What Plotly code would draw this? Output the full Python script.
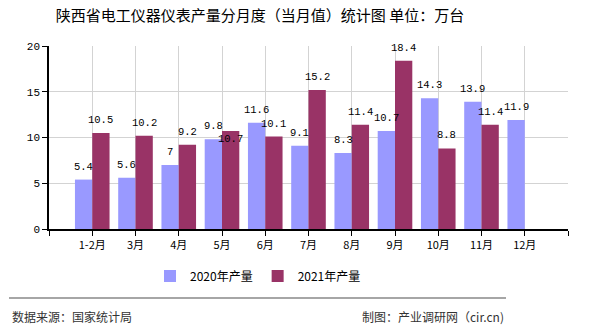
import plotly.graph_objects as go

categories = ["1-2月", "3月", "4月", "5月", "6月", "7月", "8月", "9月", "10月", "11月", "12月"]
values_2020 = [5.4, 5.6, 7, 9.8, 11.6, 9.1, 8.3, 10.7, 14.3, 13.9, 11.9]
values_2021 = [10.5, 10.2, 9.2, 10.7, 10.1, 15.2, 11.4, 18.4, 8.8, 11.4, None]
series_names = ["2020年产量", "2021年产量"]
y_ticks = [0, 5, 10, 15, 20]
title_text = "陕西省电工仪器仪表产量分月度（当月值）统计图 单位：万台"
source_text = "数据来源：国家统计局"
credit_text = "制图：产业调研网（cir.cn)"

W, H = 590, 330
L, R, T, B = 49, 568, 46, 229
pw, ph = R - L, B - T

def px_x(x):
    return (x - L) / pw

def px_y(y):
    return (B - y) / ph

colors = ["#9999FF", "#993366"]
xs = list(range(len(categories)))

fig = go.Figure()
for name, vals, col in zip(series_names, [values_2020, values_2021], colors):
    fig.add_trace(go.Bar(x=xs, y=vals, name=name, marker=dict(color=col, line=dict(width=0)),
                         hoverinfo="skip"))

label_font = dict(family="Liberation Mono, DejaVu Sans Mono, monospace", size=10.5, color="#000")
annotations = []
for si, vals in enumerate([values_2020, values_2021]):
    off = -0.2 if si == 0 else 0.2
    for i, v in enumerate(vals):
        if v is None:
            continue
        shift = 13
        other = [values_2020, values_2021][1 - si][i]
        if si == 1 and other is not None and abs(other - v) < 1.0 and other < v:
            shift = -8
        annotations.append(dict(x=i + off, y=v, xref="x", yref="y", text=f"{v:g}",
                                showarrow=False, yshift=shift, yanchor="middle",
                                font=label_font))

annotations.append(dict(x=px_x(10), y=px_y(316), xref="paper", yref="paper", text=source_text,
                        showarrow=False, xanchor="left", yanchor="middle",
                        font=dict(family="Noto Sans CJK SC", size=12, color="#333")))
annotations.append(dict(x=px_x(506), y=px_y(316), xref="paper", yref="paper", text=credit_text,
                        showarrow=False, xanchor="right", yanchor="middle",
                        font=dict(family="Noto Sans CJK SC", size=12, color="#333")))

fig.update_layout(
    width=W, height=H,
    margin=dict(l=L, r=W - R, t=T, b=H - B, pad=0),
    paper_bgcolor="white", plot_bgcolor="white",
    barmode="group", bargap=0.2, bargroupgap=0,
    title=dict(text=title_text, x=260 / W, xanchor="center", y=1 - 16 / H, yanchor="middle",
               xref="container", yref="container",
               font=dict(family="Noto Sans CJK SC", size=15, color="#000")),
    legend=dict(orientation="h", x=px_x(258), xanchor="center", y=px_y(276), yanchor="middle",
                font=dict(family="Noto Sans CJK SC", size=12, color="#000"),
                itemwidth=30, tracegroupgap=0, bgcolor="rgba(0,0,0,0)"),
    xaxis=dict(range=[-1, len(categories)], tickmode="array",
               tickvals=list(range(-1, len(categories) + 1)),
               ticktext=[""] + categories + [""],
               showgrid=True, gridcolor="#d3d3d3", gridwidth=1,
               showline=True, linecolor="#000", linewidth=1.5,
               ticks="outside", ticklen=5, tickcolor="#000",
               tickfont=dict(family="Noto Sans CJK SC", size=11, color="#000"),
               zeroline=False, fixedrange=True),
    yaxis=dict(range=[0, 20], tickvals=y_ticks, showgrid=True, gridcolor="#d3d3d3", gridwidth=1,
               showline=True, linecolor="#000", linewidth=1.5,
               ticks="outside", ticklen=5, tickcolor="#000",
               tickfont=dict(family="Liberation Mono, DejaVu Sans Mono, monospace", size=11, color="#000"),
               zeroline=False, fixedrange=True),
    annotations=annotations,
    shapes=[dict(type="line", xref="paper", yref="paper", x0=px_x(9), x1=px_x(506),
                 y0=px_y(298), y1=px_y(298), line=dict(color="#888", width=1.5))],
    showlegend=True,
)

fig.write_html("out.html")
